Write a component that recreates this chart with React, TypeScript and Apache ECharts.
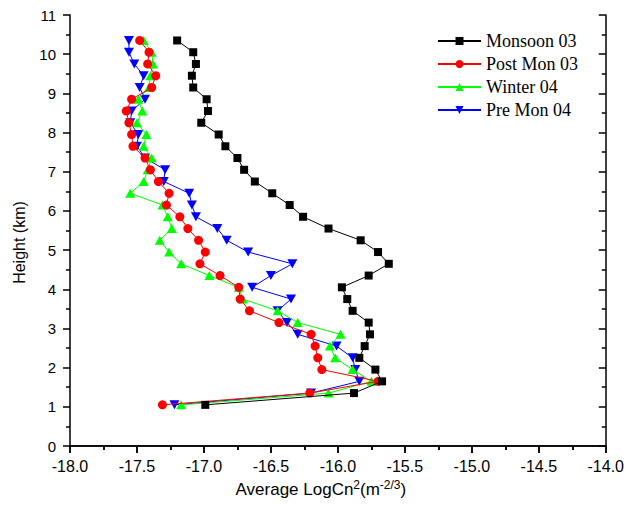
import React, { useEffect, useRef } from "react";
import * as echarts from "echarts";

const heights = [10.35, 10.05, 9.75, 9.45, 9.15, 8.85, 8.55, 8.25, 7.95, 7.65, 7.35, 7.05, 6.75, 6.45, 6.15, 5.85, 5.55, 5.25, 4.95, 4.65, 4.35, 4.05, 3.75, 3.45, 3.15, 2.85, 2.55, 2.25, 1.95, 1.65, 1.35, 1.05];

const monsoon03 = [-17.20, -17.08, -17.06, -17.09, -17.08, -16.98, -16.97, -17.02, -16.89, -16.84, -16.75, -16.70, -16.62, -16.49, -16.36, -16.26, -16.07, -15.83, -15.70, -15.62, -15.77, -15.97, -15.93, -15.89, -15.77, -15.76, -15.80, -15.84, -15.72, -15.67, -15.88, -16.99];
const postMon03 = [-17.48, -17.41, -17.42, -17.36, -17.39, -17.54, -17.58, -17.56, -17.54, -17.53, -17.44, -17.40, -17.34, -17.26, -17.28, -17.18, -17.12, -17.04, -16.99, -17.03, -16.88, -16.74, -16.73, -16.66, -16.44, -16.20, -16.17, -16.15, -16.12, -15.70, -16.21, -17.31];
const winter04 = [-17.45, -17.39, -17.38, -17.40, -17.41, -17.49, -17.46, -17.50, -17.43, -17.45, -17.39, -17.42, -17.45, -17.55, -17.31, -17.27, -17.24, -17.33, -17.26, -17.17, -16.96, -16.74, -16.71, -16.45, -16.30, -15.98, -16.06, -16.02, -15.89, -15.75, -16.07, -17.17];
const preMon04 = [-17.56, -17.56, -17.52, -17.45, -17.48, -17.44, -17.54, -17.55, -17.49, -17.50, -17.44, -17.29, -17.30, -17.11, -17.09, -17.06, -16.90, -16.83, -16.67, -16.34, -16.50, -16.64, -16.35, -16.45, -16.38, -16.30, -16.01, -15.89, -15.87, -15.84, -16.20, -17.22];

const seriesNames = ["Monsoon 03", "Post Mon 03", "Winter 04", "Pre Mon 04"];
const seriesColors = ["#000000", "#ff0000", "#00ff00", "#0000ff"];

const SANS = "'Liberation Sans', Arial, sans-serif";
const SERIF = "'Liberation Serif', 'Times New Roman', serif";

export default function App() {
  const ref = useRef<HTMLDivElement>(null);
  useEffect(() => {
    document.body.style.margin = "0";
    const chart = echarts.init(ref.current!, null, { renderer: "svg" });
    const pair = (xs: number[]) => xs.map((x, i) => [x, heights[i]]);
    const sets = [monsoon03, postMon03, winter04, preMon04];
    const symbols = ["rect", "circle", "triangle", "path://M0,0L20,0L10,17.3Z"];
    const sizes: any[] = [8, 9, [10, 9], [10, 9]];
    const axisLine = { show: true, lineStyle: { color: "#000", width: 1.5 } };
    const common = {
      min: -18, max: -14, interval: 0.5,
    };
    const option: any = {
      animation: false,
      backgroundColor: "#fff",
      grid: { left: 70, right: 20, top: 15, bottom: 60 },
      legend: {
        orient: "vertical",
        left: 437,
        top: 32,
        padding: 0,
        itemWidth: 43,
        itemHeight: 10,
        itemGap: 5,
        data: seriesNames,
        textStyle: { fontFamily: SERIF, fontSize: 18, lineHeight: 18, color: "#000" },
      },
      xAxis: [
        {
          type: "value", position: "bottom", ...common,
          axisLine,
          axisTick: { show: true, inside: false, length: 7, lineStyle: { color: "#000", width: 1.5 } },
          minorTick: { show: true, splitNumber: 2, length: 4, lineStyle: { color: "#000", width: 1.5 } },
          splitLine: { show: false },
          axisLabel: { fontFamily: SANS, fontSize: 16, color: "#000", margin: 12, formatter: (v: number) => v.toFixed(1) },
          name: "Average LogCn{sup|2}(m{sup|-2/3})",
          nameLocation: "middle",
          nameGap: 33,
          nameTextStyle: {
            fontFamily: SANS, fontSize: 17, color: "#000", padding: [0, 34, 0, 0],
            rich: { sup: { fontFamily: SANS, fontSize: 12, color: "#000", verticalAlign: "top", lineHeight: 20 } },
          },
        },
        {
          type: "value", position: "top", ...common,
          axisLine,
          axisTick: { show: true, inside: true, length: 7, lineStyle: { color: "#000", width: 1.5 } },
          minorTick: { show: true, splitNumber: 2, length: 4, lineStyle: { color: "#000", width: 1.5 } },
          splitLine: { show: false },
          axisLabel: { show: false },
        },
      ],
      yAxis: [
        {
          type: "value", position: "left", min: 0, max: 11, interval: 1,
          axisLine,
          axisTick: { show: true, inside: false, length: 7, lineStyle: { color: "#000", width: 1.5 } },
          minorTick: { show: true, splitNumber: 2, length: 4, lineStyle: { color: "#000", width: 1.5 } },
          splitLine: { show: false },
          axisLabel: { fontFamily: SANS, fontSize: 15, color: "#000", margin: 14 },
          name: "Height (km)",
          nameLocation: "middle",
          nameGap: 43,
          nameRotate: 90,
          nameTextStyle: { fontFamily: SANS, fontSize: 16, color: "#000", padding: [0, 24, 0, 0] },
        },
        {
          type: "value", position: "right", min: 0, max: 11, interval: 1,
          axisLine,
          axisTick: { show: true, inside: true, length: 7, lineStyle: { color: "#000", width: 1.5 } },
          minorTick: { show: true, splitNumber: 2, length: 4, lineStyle: { color: "#000", width: 1.5 } },
          splitLine: { show: false },
          axisLabel: { show: false },
        },
      ],
      series: sets.map((xs, i) => ({
        name: seriesNames[i],
        type: "line",
        xAxisIndex: 0,
        yAxisIndex: 0,
        data: pair(xs),
        symbol: symbols[i],
        symbolSize: sizes[i],
        showAllSymbol: true,
        color: seriesColors[i],
        itemStyle: { color: seriesColors[i] },
        lineStyle: { color: seriesColors[i], width: 1 },
        z: 10 - i,
      })),
    };
    chart.setOption(option);
    return () => chart.dispose();
  }, []);
  return <div ref={ref} style={{ width: 627, height: 506 }} />;
}
